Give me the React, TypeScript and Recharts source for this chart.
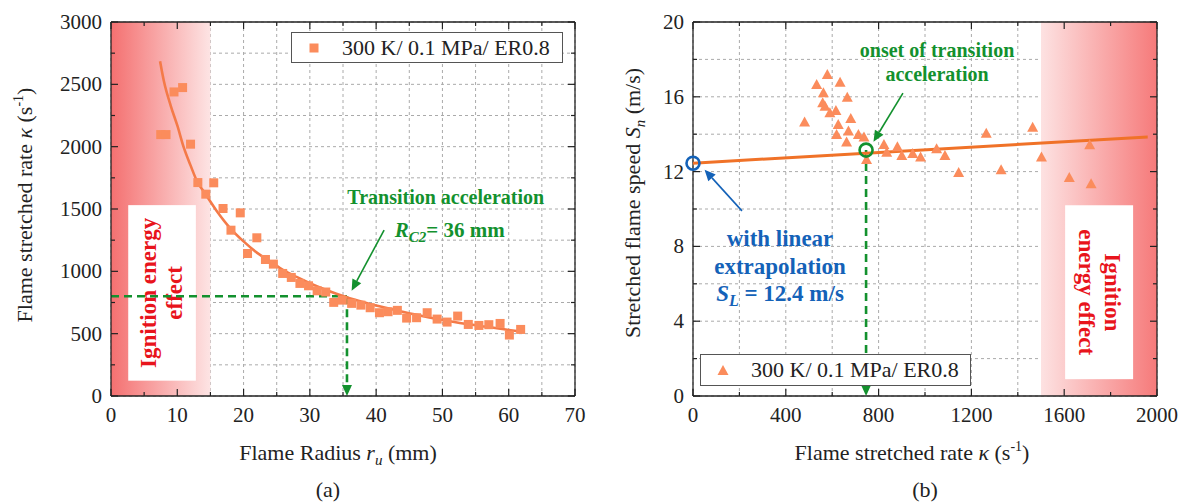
import React from 'react'
import {
  ComposedChart,
  Scatter,
  XAxis,
  YAxis,
  CartesianGrid,
  ReferenceArea,
  ReferenceLine,
  ReferenceDot,
  Legend,
  Label,
} from 'recharts'

const FONT = '"Liberation Serif", "Times New Roman", serif'
const SERIES = '300 K/ 0.1 MPa/ ER0.8'
const INK = '#222'
const GREEN = '#13912e'
const BLUE = '#1462b8'
const RED = '#e8141c'
const MARKER = '#fb8c5c'

// (a) flame radius r_u (mm) vs stretch rate (1/s)
const radiusA = [7.5, 8.3, 9.5, 10.8, 12.0, 13.1, 14.3, 15.5, 16.9, 18.1, 19.5, 20.6, 22.0, 23.3, 24.5, 25.9, 27.2, 28.5, 29.8, 31.1, 32.4, 33.6, 34.9, 36.3, 37.7, 39.1, 40.5, 41.8, 43.2, 44.6, 46.1, 47.7, 49.2, 50.7, 52.3, 53.9, 55.5, 57.0, 58.7, 60.1, 61.8]
const kappaA = [2097, 2097, 2439, 2474, 2020, 1712, 1619, 1710, 1504, 1330, 1469, 1143, 1269, 1095, 1058, 983, 951, 903, 884, 844, 834, 751, 769, 743, 729, 708, 668, 676, 687, 625, 628, 668, 617, 593, 641, 574, 566, 572, 582, 489, 534]
// fitted curve
const fitRadius = [7.4, 8, 9, 10, 11, 12, 13, 14, 16, 18, 20, 22, 24, 26, 28, 30, 32, 34, 36, 38, 40, 44, 48, 52, 56, 60, 61.8]
const fitKappa = [2685, 2520, 2330, 2170, 1990, 1850, 1720, 1640, 1480, 1345, 1240, 1150, 1080, 1010, 955, 905, 860, 820, 785, 755, 725, 675, 630, 592, 560, 530, 518]
const xTicksA = [0, 5, 10, 15, 20, 25, 30, 35, 40, 45, 50, 55, 60, 65, 70]
const yTicksA = [0, 250, 500, 750, 1000, 1250, 1500, 1750, 2000, 2250, 2500, 2750, 3000]
const rc2 = 35.6
const kappaC2 = 800

// (b) stretch rate (1/s) vs stretched flame speed (m/s)
const kappaB = [481, 533, 579, 634, 562, 665, 559, 569, 616, 590, 680, 626, 670, 619, 713, 737, 662, 748, 823, 835, 881, 900, 947, 981, 1050, 1086, 1145, 1264, 1328, 1464, 1502, 1622, 1710, 1716]
const speedB = [14.62, 16.63, 17.17, 16.75, 16.19, 15.95, 15.65, 15.47, 15.24, 15.12, 14.81, 14.49, 14.14, 13.96, 13.96, 13.83, 13.55, 12.62, 13.42, 13.01, 13.3, 12.83, 12.94, 12.76, 13.19, 12.83, 11.93, 14.03, 12.07, 14.35, 12.75, 11.66, 13.41, 11.33]
const lineKappa = [0, 1960]
const lineSpeed = [12.45, 13.85]
const xTicksB = [0, 200, 400, 600, 800, 1000, 1200, 1400, 1600, 1800, 2000]
const yTicksB = [0, 2, 4, 6, 8, 10, 12, 14, 16, 18, 20]
const onsetKappa = 746
const onsetSpeed = 13.15
const sL = 12.45

const toPoints = (xs: number[], ys: number[]) => xs.map((x, i) => ({ x, y: ys[i] }))

const PLOT_W = 464
const PLOT_H = 374

const isMajor = (v: number, step: number) => Math.abs(v / step - Math.round(v / step)) < 1e-6

const makeXTick = (step: number) => (p: any) => {
  const { x, y, payload } = p
  const major = isMajor(payload.value, step)
  const len = major ? 7 : 4
  return (
    <g>
      <line x1={x} x2={x} y1={y} y2={y - len} stroke={INK} strokeWidth={1.2} />
      <line x1={x} x2={x} y1={y - PLOT_H} y2={y - PLOT_H + len} stroke={INK} strokeWidth={1.2} />
      {major && (
        <text x={x} y={y + 26} textAnchor="middle" fontFamily={FONT} fontSize={21} fill={INK}>
          {payload.value}
        </text>
      )}
    </g>
  )
}

const makeYTick = (step: number) => (p: any) => {
  const { x, y, payload } = p
  const major = isMajor(payload.value, step)
  const len = major ? 7 : 4
  return (
    <g>
      <line x1={x} x2={x + len} y1={y} y2={y} stroke={INK} strokeWidth={1.2} />
      <line x1={x + PLOT_W} x2={x + PLOT_W - len} y1={y} y2={y} stroke={INK} strokeWidth={1.2} />
      {major && (
        <text x={x - 9} y={y + 7} textAnchor="end" fontFamily={FONT} fontSize={21} fill={INK}>
          {payload.value}
        </text>
      )}
    </g>
  )
}

const gradientShape = (id: string, redOnLeft: boolean) => (p: any) => (
  <g>
    <defs>
      <linearGradient id={id} x1="0" y1="0" x2="1" y2="0">
        <stop offset="0" stopColor={redOnLeft ? '#f47070' : '#fde2e2'} />
        <stop offset="1" stopColor={redOnLeft ? '#fde4e4' : '#f67a7a'} />
      </linearGradient>
    </defs>
    <rect x={p.x} y={p.y} width={p.width} height={p.height} fill={`url(#${id})`} />
  </g>
)

const ignitionBox = (lines: string[], angle: number) => (p: any) => {
  const cx = p.x + p.width / 2
  const cy = p.y + p.height / 2
  return (
    <g>
      <rect x={p.x} y={p.y} width={p.width} height={p.height} fill="#fff" />
      <text
        transform={`translate(${cx},${cy}) rotate(${angle})`}
        textAnchor="middle"
        fontFamily={FONT}
        fontWeight="bold"
        fontSize={23}
        fill={RED}
      >
        {lines.map((l, i) => (
          <tspan key={i} x={0} y={(i - (lines.length - 1) / 2) * 26 + 7}>
            {l}
          </tspan>
        ))}
      </text>
    </g>
  )
}

const note = (content: React.ReactNode, color: string, size: number) => (p: any) => (
  <text x={p.cx} y={p.cy + size * 0.33} textAnchor="middle" fontFamily={FONT} fontWeight="bold" fontSize={size} fill={color}>
    {content}
  </text>
)

const arrow = (color: string, width: number, dash?: string) => (p: any) => {
  const { x1, y1, x2, y2 } = p
  const a = Math.atan2(y2 - y1, x2 - x1)
  const L = 11
  const W = 5
  const bx = x2 - L * Math.cos(a)
  const by = y2 - L * Math.sin(a)
  const pts = [
    [x2, y2],
    [bx + W * Math.sin(a), by - W * Math.cos(a)],
    [bx - W * Math.sin(a), by + W * Math.cos(a)],
  ]
  return (
    <g>
      <line x1={x1} y1={y1} x2={bx} y2={by} stroke={color} strokeWidth={width} strokeDasharray={dash} />
      <polygon points={pts.map((q) => q.join(',')).join(' ')} fill={color} />
    </g>
  )
}

const ring = (color: string) => (p: any) => (
  <circle cx={p.cx} cy={p.cy} r={6.5} fill="none" stroke={color} strokeWidth={2.6} />
)

const Square = (p: any) => <rect x={p.cx - 4.5} y={p.cy - 4.5} width={9} height={9} fill={MARKER} />
const Triangle = (p: any) => (
  <polygon points={`${p.cx},${p.cy - 6} ${p.cx + 5.5},${p.cy + 4} ${p.cx - 5.5},${p.cy + 4}`} fill={MARKER} />
)
const NoDot = () => <g />

const LegendBox = ({ kind }: { kind: 'square' | 'triangle' }) => (
  <div
    style={{
      boxSizing: 'border-box',
      width: '100%',
      height: '100%',
      border: '1.3px solid #555',
      background: '#fff',
      display: 'flex',
      alignItems: 'center',
      fontFamily: FONT,
      fontSize: 22,
      color: INK,
      whiteSpace: 'nowrap',
    }}
  >
    <svg width={50} height={24} style={{ flex: 'none' }}>
      {kind === 'square' ? <Square cx={22} cy={12} /> : <Triangle cx={22} cy={13} />}
    </svg>
    <span>{SERIES}</span>
  </div>
)

const ChartA = () => (
  <ComposedChart width={600} height={502} margin={{ top: 22, right: 25, bottom: 66, left: 0 }}>
    <ReferenceArea x1={0} x2={15} y1={0} y2={3000} shape={gradientShape('gradA', true)} />
    <CartesianGrid strokeDasharray="3 3" stroke="#aaa" />
    <ReferenceArea x1={2.6} x2={12.8} y1={123} y2={1531} shape={ignitionBox(['Ignition energy', 'effect'], -90)} />
    <XAxis
      type="number"
      dataKey="x"
      domain={[0, 70]}
      ticks={xTicksA}
      interval={0}
      tickSize={0}
      tickMargin={0}
      tick={makeXTick(10)}
      height={40}
      stroke={INK}
      strokeWidth={1.3}
    >
      <Label
        content={(p: any) => {
          const vb = p.viewBox
          const cx = vb.x + vb.width / 2
          return (
            <g fontFamily={FONT} fill={INK}>
              <text x={cx - 5} y={vb.y + 64} textAnchor="middle" fontSize={22}>
                Flame Radius <tspan fontStyle="italic">r</tspan>
                <tspan fontStyle="italic" fontSize={15} dy={5}>u</tspan>
                <tspan dy={-5}> (mm)</tspan>
              </text>
              <text x={cx - 15} y={vb.y + 101} textAnchor="middle" fontSize={22}>(a)</text>
            </g>
          )
        }}
      />
    </XAxis>
    <YAxis
      type="number"
      dataKey="y"
      domain={[0, 3000]}
      ticks={yTicksA}
      interval={0}
      tickSize={0}
      tickMargin={0}
      tick={makeYTick(500)}
      width={111}
      stroke={INK}
      strokeWidth={1.3}
    >
      <Label
        content={(p: any) => {
          const vb = p.viewBox
          const cy = vb.y + vb.height / 2 - 4
          return (
            <text
              transform={`translate(${vb.x + 32},${cy}) rotate(-90)`}
              textAnchor="middle"
              fontFamily={FONT}
              fontSize={22}
              fill={INK}
            >
              Flame stretched rate <tspan fontStyle="italic">κ</tspan> (s
              <tspan fontSize={14} dy={-9}>-1</tspan>
              <tspan dy={9}>)</tspan>
            </text>
          )
        }}
      />
    </YAxis>
    <ReferenceLine y={3000} stroke={INK} strokeWidth={1.3} />
    <ReferenceLine x={70} stroke={INK} strokeWidth={1.3} />
    <ReferenceLine
      segment={[{ x: 0, y: kappaC2 }, { x: rc2, y: kappaC2 }]}
      stroke={GREEN}
      strokeWidth={2.6}
      strokeDasharray="8 5"
    />
    <ReferenceLine
      segment={[{ x: rc2, y: kappaC2 }, { x: rc2, y: 0 }]}
      shape={arrow(GREEN, 2.6, '8 5')}
    />
    <ReferenceLine segment={[{ x: 41.2, y: 1331 }, { x: 36.3, y: 845 }]} shape={arrow(GREEN, 1.6)} />
    <ReferenceDot x={50.5} y={1596} shape={note('Transition acceleration', GREEN, 20)} />
    <ReferenceDot
      x={51.1}
      y={1331}
      shape={note(
        <>
          <tspan fontStyle="italic">R</tspan>
          <tspan fontStyle="italic" fontSize={15} dy={5}>C2</tspan>
          <tspan dy={-5}>= 36 mm</tspan>
        </>,
        GREEN,
        21,
      )}
    />
    <Scatter
      name="fit"
      data={toPoints(fitRadius, fitKappa)}
      shape={NoDot}
      line={{ stroke: '#f47a48', strokeWidth: 2.6 }}
      lineJointType="monotoneX"
      legendType="none"
      isAnimationActive={false}
    />
    <Scatter name={SERIES} data={toPoints(radiusA, kappaA)} shape={Square} fill={MARKER} isAnimationActive={false} />
    <Legend
      layout="horizontal"
      verticalAlign="middle"
      align="center"
      wrapperStyle={{ left: 291, top: 32, width: 272, height: 31 }}
      content={() => <LegendBox kind="square" />}
    />
  </ComposedChart>
)

const ChartB = () => (
  <ComposedChart width={586} height={502} margin={{ top: 22, right: 29, bottom: 66, left: 0 }}>
    <ReferenceArea x1={1500} x2={2000} y1={0} y2={20} shape={gradientShape('gradB', false)} />
    <CartesianGrid strokeDasharray="3 3" stroke="#aaa" />
    <ReferenceArea x1={1604} x2={1897} y1={0.9} y2={10.2} shape={ignitionBox(['Ignition', 'energy effect'], 90)} />
    <XAxis
      type="number"
      dataKey="x"
      domain={[0, 2000]}
      ticks={xTicksB}
      interval={0}
      tickSize={0}
      tickMargin={0}
      tick={makeXTick(400)}
      height={40}
      stroke={INK}
      strokeWidth={1.3}
    >
      <Label
        content={(p: any) => {
          const vb = p.viewBox
          const cx = vb.x + vb.width / 2
          return (
            <g fontFamily={FONT} fill={INK}>
              <text x={cx - 13} y={vb.y + 64} textAnchor="middle" fontSize={22}>
                Flame stretched rate <tspan fontStyle="italic">κ</tspan> (s
                <tspan fontSize={14} dy={-9}>-1</tspan>
                <tspan dy={9}>)</tspan>
              </text>
              <text x={cx} y={vb.y + 101} textAnchor="middle" fontSize={22}>(b)</text>
            </g>
          )
        }}
      />
    </XAxis>
    <YAxis
      type="number"
      dataKey="y"
      domain={[0, 20]}
      ticks={yTicksB}
      interval={0}
      tickSize={0}
      tickMargin={0}
      tick={makeYTick(4)}
      width={93}
      stroke={INK}
      strokeWidth={1.3}
    >
      <Label
        content={(p: any) => {
          const vb = p.viewBox
          const cy = vb.y + vb.height / 2 - 6
          return (
            <text
              transform={`translate(${vb.x + 40},${cy}) rotate(-90)`}
              textAnchor="middle"
              fontFamily={FONT}
              fontSize={22}
              fill={INK}
            >
              Stretched flame speed <tspan fontStyle="italic">S</tspan>
              <tspan fontStyle="italic" fontSize={15} dy={5}>n</tspan>
              <tspan dy={-5}> (m/s)</tspan>
            </text>
          )
        }}
      />
    </YAxis>
    <ReferenceLine y={20} stroke={INK} strokeWidth={1.3} />
    <ReferenceLine x={2000} stroke={INK} strokeWidth={1.3} />
    <Scatter
      name="linear fit"
      data={toPoints(lineKappa, lineSpeed)}
      shape={NoDot}
      line={{ stroke: '#f07228', strokeWidth: 3 }}
      legendType="none"
      isAnimationActive={false}
    />
    <ReferenceLine
      segment={[{ x: onsetKappa, y: onsetSpeed }, { x: onsetKappa, y: 0 }]}
      shape={arrow(GREEN, 2.6, '8 5')}
    />
    <Scatter name={SERIES} data={toPoints(kappaB, speedB)} shape={Triangle} fill={MARKER} isAnimationActive={false} />
    <ReferenceDot x={onsetKappa} y={onsetSpeed} shape={ring(GREEN)} />
    <ReferenceDot x={0} y={sL} shape={ring(BLUE)} />
    <ReferenceLine segment={[{ x: 905, y: 16.2 }, { x: 778, y: 13.6 }]} shape={arrow(GREEN, 1.6)} />
    <ReferenceLine segment={[{ x: 211, y: 9.9 }, { x: 50, y: 12.1 }]} shape={arrow(BLUE, 1.6)} />
    <ReferenceDot x={1052} y={18.5} shape={note('onset of transition', GREEN, 20)} />
    <ReferenceDot x={1052} y={17.22} shape={note('acceleration', GREEN, 20)} />
    <ReferenceDot x={375} y={8.45} shape={note('with linear', BLUE, 23)} />
    <ReferenceDot x={375} y={6.95} shape={note('extrapolation', BLUE, 23)} />
    <ReferenceDot
      x={375}
      y={5.51}
      shape={note(
        <>
          <tspan fontStyle="italic">S</tspan>
          <tspan fontStyle="italic" fontSize={16} dy={5}>L</tspan>
          <tspan dy={-5}> = 12.4 m/s</tspan>
        </>,
        BLUE,
        23,
      )}
    />
    <Legend
      layout="horizontal"
      verticalAlign="middle"
      align="center"
      wrapperStyle={{ left: 100, top: 354, width: 271, height: 32 }}
      content={() => <LegendBox kind="triangle" />}
    />
  </ComposedChart>
)

export default function App() {
  return (
    <div style={{ position: 'absolute', left: 0, top: 0, width: 1186, height: 502, background: '#fff', fontFamily: FONT }}>
      <div style={{ position: 'absolute', left: 0, top: 0 }}>
        <ChartA />
      </div>
      <div style={{ position: 'absolute', left: 600, top: 0 }}>
        <ChartB />
      </div>
    </div>
  )
}
